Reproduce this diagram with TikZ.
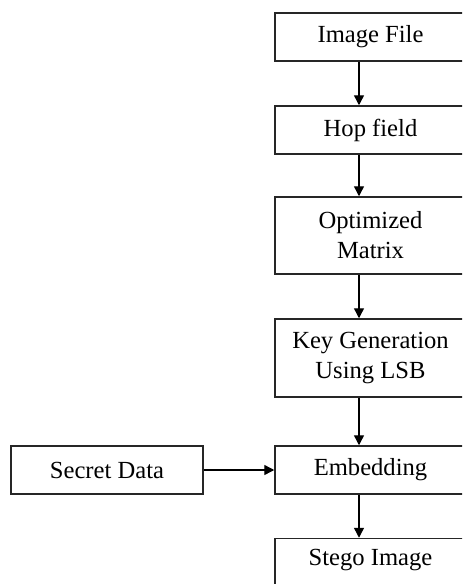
\documentclass[tikz,border=0pt]{standalone}
\usepackage{fontspec}
\setmainfont{Liberation Serif}
\usetikzlibrary{arrows.meta}
\begin{document}
\begin{tikzpicture}[x=0.5pt,y=-0.5pt,
  box/.style={draw=black!85,line width=0.75pt,rectangle,inner sep=0pt,align=center,
    font=\fontsize{12.3}{15}\selectfont,minimum width=95.5pt},
  arr/.style={draw=black,line width=0.7pt,-{Triangle[length=5pt,width=5pt]}}]
\useasboundingbox (0,0) rectangle (462,584);
\clip (0,0) rectangle (462,584);
\node[box,minimum height=24pt] (img) at (370.5,37) {Image File};
\node[box,minimum height=24pt] (hop) at (370.5,130) {Hop field};
\node[box,minimum height=38.5pt] (opt) at (370.5,235.5) {Optimized\\Matrix};
\node[box,minimum height=39pt] (key) at (370.5,358) {Key Generation\\Using LSB};
\node[box,minimum height=24pt] (emb) at (370.5,470) {Embedding};
\node[box,minimum height=26pt,text depth=0pt] (steg) at (370.5,564.5) {};
\node[font=\fontsize{12.3}{15}\selectfont] (stegt) at (370.5,560) {Stego Image};
\node[box,minimum width=96pt,minimum height=24pt] (sec) at (107,470) {Secret Data};
\coordinate (ax) at (359,0);
\draw[arr] (img.south -| ax) -- (hop.north -| ax);
\draw[arr] (hop.south -| ax) -- (opt.north -| ax);
\draw[arr] (opt.south -| ax) -- (key.north -| ax);
\draw[arr] (key.south -| ax) -- (emb.north -| ax);
\draw[arr] (emb.south -| ax) -- (steg.north -| ax);
\draw[arr] (sec.east) -- (emb.west);
\end{tikzpicture}
\end{document}
